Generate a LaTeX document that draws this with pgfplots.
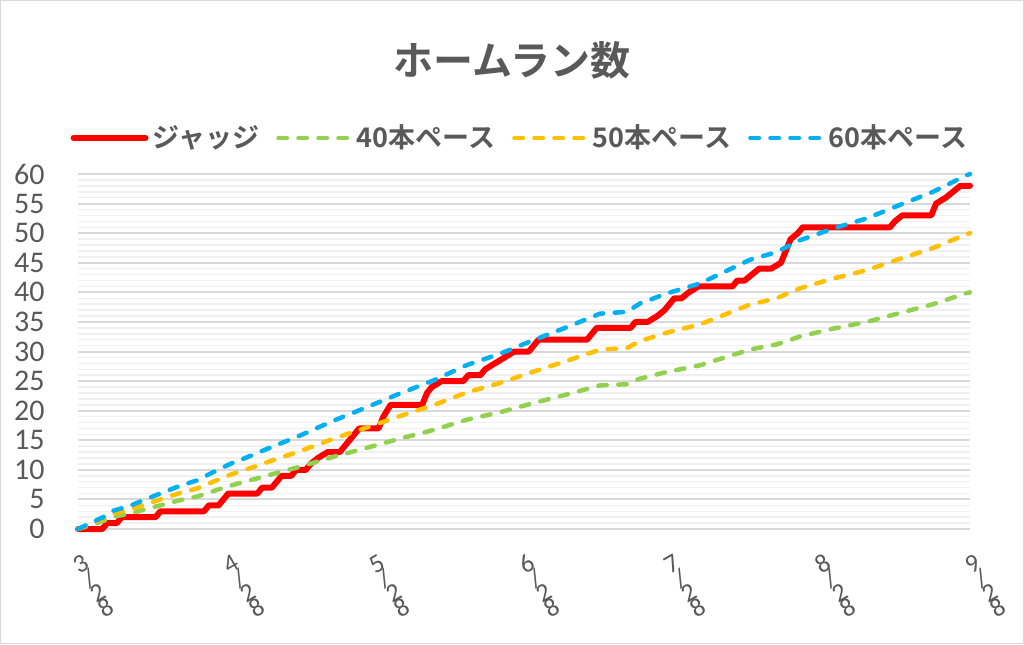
\documentclass[border=0pt]{standalone}
\usepackage{fontspec}
\setmainfont{Carlito}
\newfontfamily\jpb{Noto Sans CJK JP Bold}
\usepackage{pgfplots}
\pgfplotsset{compat=1.18}
\usepackage{pgfplotstable}
\definecolor{txt}{HTML}{595959}
\definecolor{majg}{HTML}{D9D9D9}
\definecolor{ming}{HTML}{F0F0F0}
\definecolor{cjudge}{HTML}{FF0000}
\definecolor{c40}{HTML}{92D050}
\definecolor{c50}{HTML}{FFC000}
\definecolor{c60}{HTML}{00B0F0}

\pgfplotstableread{
d v60 v50 v40
0 0 0 0
5.2 2.0 1.67 1.33
7.3 3.1 2.58 2.07
10.7 3.9 3.25 2.6
14.2 5.1 4.25 3.4
17.6 6.2 5.17 4.13
21 7.3 6.08 4.87
24.5 8.2 6.83 5.47
27.9 9.6 8.0 6.4
31.4 11.0 9.17 7.33
34.8 12.1 10.08 8.07
38.9 13.5 11.25 9.0
45.8 15.8 13.17 10.53
52.7 18.3 15.25 12.2
59.6 20.6 17.17 13.73
66.4 22.9 19.08 15.27
73.3 25.1 20.92 16.73
80.2 27.7 23.08 18.47
87 29.6 24.67 19.73
93.9 31.9 26.58 21.27
100.8 34.1 28.42 22.73
107.7 36.4 30.33 24.27
113.2 36.7 30.58 24.47
115.9 38.1 31.75 25.4
121.4 39.8 33.17 26.53
128.3 41.5 34.58 27.67
138.6 45.5 37.92 30.33
144.1 46.8 39.0 31.2
148.9 48.8 40.67 32.53
155.8 50.8 42.33 33.87
162.7 52.5 43.75 35.0
169.6 54.8 45.67 36.53
176.4 57 47.5 38.0
183.3 59.8 49.83 39.87
184 60 50 40
}\pace

\newcommand\stkr[1]{\raisebox{0pt}[6.8pt][1.7pt]{#1}}
\newcommand\stk[4]{\vbox{\offinterlineskip\halign{\hfil##\hfil\cr\stkr{#1}\cr\stkr{#2}\cr\stkr{#3}\cr\stkr{#4}\cr}}}

\begin{document}
\begin{tikzpicture}[x=1pt,y=1pt]
\path[use as bounding box] (0,0) rectangle (512,322);
\draw[majg, line width=0.6pt] (0.3,0.3) rectangle (511.7,321.7);
\node[font=\jpb\fontsize{20}{20}\selectfont, text=txt] at (256,292) {ホームラン数};
\begin{axis}[
  at={(39pt,57.5pt)}, anchor=south west,
  scale only axis, width=446pt, height=177.5pt,
  xmin=0, xmax=184, ymin=0, ymax=60,
  clip=false,
  /pgf/number format/assume math mode=true,
  xtick={0,31,61,92,122,153,184},
  xticklabels={{\stk{3}{/}{2}{8}},{\stk{4}{/}{2}{8}},{\stk{5}{/}{2}{8}},{\stk{6}{/}{2}{8}},{\stk{7}{/}{2}{8}},{\stk{8}{/}{2}{8}},{\stk{9}{/}{2}{8}}},
  ytick={0,5,...,60},
  minor y tick num=4,
  ymajorgrids, yminorgrids,
  major grid style={draw=majg, line width=1pt},
  minor grid style={draw=ming, line width=0.75pt},
  axis x line*=bottom, axis y line*=left,
  x axis line style={draw=majg, line width=1pt, -},
  y axis line style={draw=none},
  tick style={draw=none},
  major tick length=0pt, minor tick length=0pt,
  yticklabel style={font=\fontsize{15}{15}\selectfont, text=txt, inner sep=0pt, anchor=east, xshift=-16.5pt},
  xticklabel style={font=\fontsize{13}{13}\selectfont, text=txt, inner sep=0pt, yshift=-15pt, rotate=30, anchor=north},
  legend columns=4,
  legend style={at={(0.4965,1.1014)}, anchor=center, draw=none, fill=none,
    font=\jpb\fontsize{13.5}{13.5}\selectfont, text=txt,
    /tikz/every even column/.append style={column sep=6.5pt}},
  legend image code/.code={\draw[#1] (0pt,0pt) -- (36pt,0pt);},
]
\addplot[cjudge, line width=3pt, line join=round, line cap=round] coordinates {
(0,0)(5,0)(6,1)(8,1)(9,2)(16,2)(17,3)(26,3)(27,4)(29,4)(31,6)(37,6)(38,7)(40,7)
(42,9)(44,9)(45,10)(47,10)(48,11)(49.5,12)(51.5,13)(54,13)(55,14)(56,15)(57,16)(58,17)
(62,17)(63,19)(64.5,21)(71,21)(72,23)(73,24)(75,25)(79.5,25)(80.5,26)(83,26)(84,27)
(86,28)(88,29)(90,30)(93,30)(95,32)(105,32)(107,34)(114,34)(115,35)(117.5,35)(119.5,36)
(121,37)(123,39)(124.5,39)(126,40)(128,41)(135,41)(136,42)(137.5,42)(139,43)(140.5,44)
(143,44)(145,45)(146,47)(147,49)(148.5,50)(149.5,51)(167.5,51)(168.5,52)(170,53)(176,53)
(177,55)(179,56)(180.5,57)(182,58)(184,58)
};
\addplot[c40, line width=2.25pt, dash pattern=on 4.2pt off 5.8pt, line cap=round] table[x=d, y=v40] {\pace};
\addplot[c50, line width=2.25pt, dash pattern=on 4.2pt off 5.8pt, line cap=round] table[x=d, y=v50] {\pace};
\addplot[c60, line width=2.25pt, dash pattern=on 4.2pt off 5.8pt, line cap=round] table[x=d, y=v60] {\pace};
\legend{ジャッジ,40本ペース,50本ペース,60本ペース}
\end{axis}
\end{tikzpicture}
\end{document}
